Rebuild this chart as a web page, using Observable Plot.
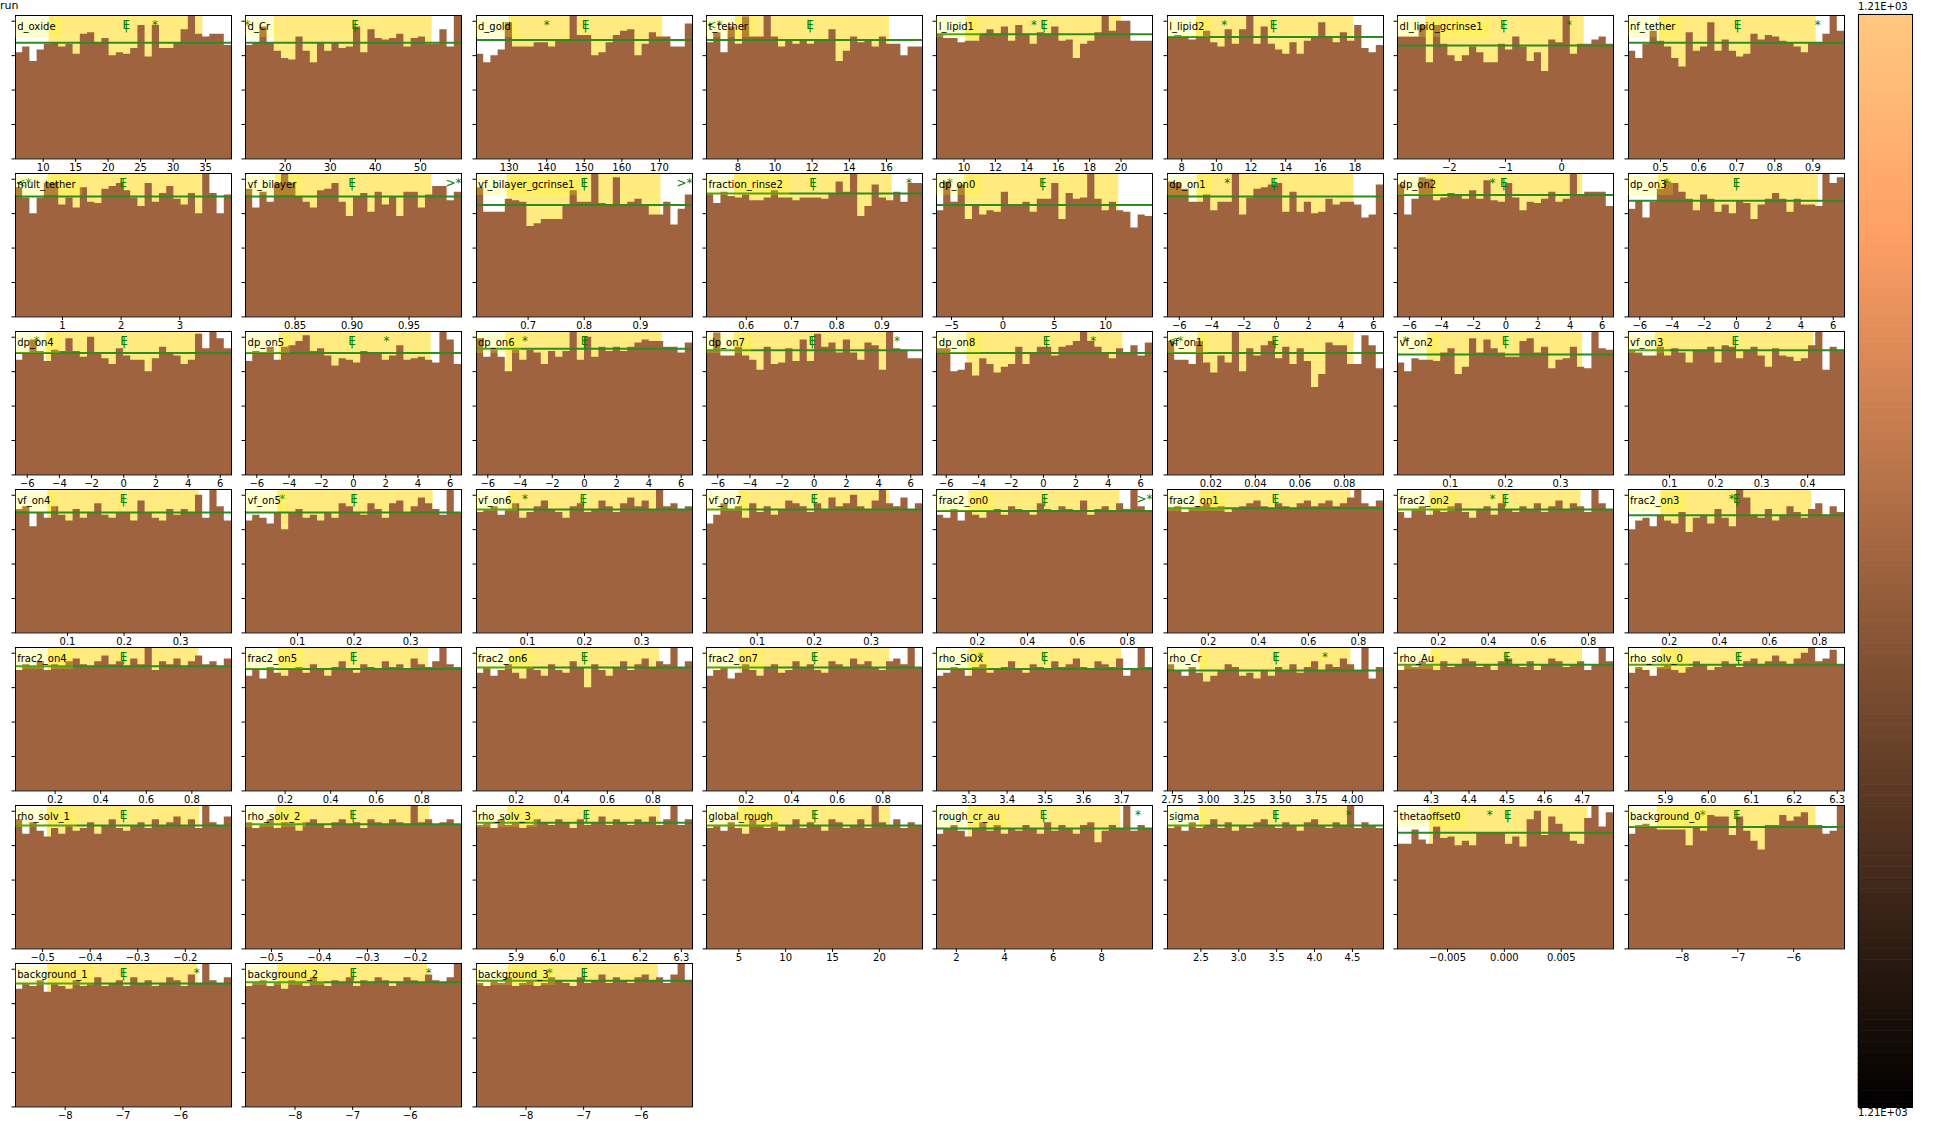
<!DOCTYPE html>
<html><head><meta charset="utf-8">
<script src="https://cdn.jsdelivr.net/npm/d3@7"></script>
<script src="https://cdn.jsdelivr.net/npm/@observablehq/plot@0.6"></script>
<style>
body{margin:0;background:#fff;font-family:"DejaVu Sans",sans-serif;}
#root{position:relative;width:1940px;height:1137px;overflow:hidden;background:#fff;}
.lbl{position:absolute;height:20px;line-height:20px;font-size:10px;background:rgba(255,255,0,0.2);padding:0 6px 0 2.5px;color:#000;white-space:nowrap;}
.txt{position:absolute;font-size:10px;color:#000;white-space:nowrap;}
.panel{position:absolute;}
</style></head><body><div id="root"></div>
<script>
const title = "run";
const names = ["d_oxide","d_Cr","d_gold","t_tether","l_lipid1","l_lipid2","dl_lipid_gcrinse1","nf_tether",
"mult_tether","vf_bilayer","vf_bilayer_gcrinse1","fraction_rinse2","dp_on0","dp_on1","dp_on2","dp_on3",
"dp_on4","dp_on5","dp_on6","dp_on7","dp_on8","vf_on1","vf_on2","vf_on3",
"vf_on4","vf_on5","vf_on6","vf_on7","frac2_on0","frac2_on1","frac2_on2","frac2_on3",
"frac2_on4","frac2_on5","frac2_on6","frac2_on7","rho_SiOx","rho_Cr","rho_Au","rho_solv_0",
"rho_solv_1","rho_solv_2","rho_solv_3","global_rough","rough_cr_au","sigma","thetaoffset0","background_0",
"background_1","background_2","background_3"];

const xDomains = [[5.73,39.0],[11.2,59.1],[121.3,178.8],[6.31,17.94],[8.25,22.0],[7.18,19.64],[-2.92,0.92],[0.416,0.983],
[0.2,3.88],[0.8066,0.996],[0.608,0.993],[0.512,0.990],[-6.46,14.55],[-6.73,6.62],[-6.74,6.70],[-6.70,6.70],
[-6.73,6.70],[-6.70,6.70],[-6.70,6.70],[-6.70,6.73],[-6.6,6.73],[0.0005,0.0976],[0.0043,0.396],[0.011,0.480],
[0.008,0.39],[0.008,0.39],[0.011,0.389],[0.011,0.39],[0.036,0.90],[0.037,0.90],[0.037,0.90],[0.037,0.90],
[0.026,0.974],[0.026,0.974],[0.026,0.974],[0.026,0.974],[3.215,3.781],[2.716,4.216],[4.211,4.782],[5.814,6.317],
[-0.557,-0.103],[-0.554,-0.104],[5.804,6.327],[1.55,24.6],[1.18,10.1],[2.06,4.91],[-0.0094,0.0096],[-8.96,-5.09],
[-8.86,-5.12],[-8.86,-5.11],[-8.86,-5.11]];

const dpT = ["−6","−4","−2","0","2","4","6"];
const xTicks = [["10","15","20","25","30","35"],["20","30","40","50"],["130","140","150","160","170"],["8","10","12","14","16"],["10","12","14","16","18","20"],["8","10","12","14","16","18"],["−2","−1","0"],["0.5","0.6","0.7","0.8","0.9"],
["1","2","3"],["0.85","0.90","0.95"],["0.7","0.8","0.9"],["0.6","0.7","0.8","0.9"],["−5","0","5","10"],dpT,dpT,dpT,
dpT,dpT,dpT,dpT,dpT,["0.02","0.04","0.06","0.08"],["0.1","0.2","0.3"],["0.1","0.2","0.3","0.4"],
["0.1","0.2","0.3"],["0.1","0.2","0.3"],["0.1","0.2","0.3"],["0.1","0.2","0.3"],["0.2","0.4","0.6","0.8"],["0.2","0.4","0.6","0.8"],["0.2","0.4","0.6","0.8"],["0.2","0.4","0.6","0.8"],
["0.2","0.4","0.6","0.8"],["0.2","0.4","0.6","0.8"],["0.2","0.4","0.6","0.8"],["0.2","0.4","0.6","0.8"],["3.3","3.4","3.5","3.6","3.7"],["2.75","3.00","3.25","3.50","3.75","4.00"],["4.3","4.4","4.5","4.6","4.7"],["5.9","6.0","6.1","6.2","6.3"],
["−0.5","−0.4","−0.3","−0.2"],["−0.5","−0.4","−0.3","−0.2"],["5.9","6.0","6.1","6.2","6.3"],["5","10","15","20"],["2","4","6","8"],["2.5","3.0","3.5","4.0","4.5"],["−0.005","0.000","0.005"],["−8","−7","−6"],
["−8","−7","−6"],["−8","−7","−6"],["−8","−7","−6"]];

// histogram bar heights, percent of the tallest bin (30 bins per parameter)
const heights = [
[74,78,68,76,80,81,78,80,73,87,88,81,84,72,74,73,77,93,71,93,77,77,81,90,100,87,85,87,87,79],
[79,81,92,81,75,70,69,85,75,67,81,75,81,77,78,92,74,90,84,83,84,87,78,84,85,80,80,90,78,100],
[73,67,72,76,95,78,78,78,81,81,78,83,83,100,86,86,72,74,81,86,89,90,72,80,88,85,85,78,78,94],
[81,88,74,92,80,99,85,85,100,85,78,82,80,83,80,83,83,90,68,75,85,81,83,78,85,80,80,72,78,78],
[86,84,84,81,82,82,87,90,87,92,82,93,87,80,88,87,92,82,83,70,80,82,88,100,89,96,96,82,82,82],
[85,86,85,83,85,89,81,78,90,80,90,100,80,92,80,76,73,81,73,82,85,95,85,81,88,82,93,77,74,79],
[85,85,85,93,67,93,80,72,68,72,78,74,67,67,80,76,85,78,68,74,61,83,81,100,73,80,80,83,85,80],
[75,70,80,89,82,78,70,64,88,75,78,95,75,83,75,71,73,87,83,86,85,82,81,78,74,81,81,87,100,89],
[90,83,72,83,93,93,78,83,76,90,80,79,89,91,93,88,83,77,93,80,86,91,82,78,86,72,100,86,72,85],
[89,76,87,80,93,100,93,84,80,76,88,89,93,80,70,84,86,73,87,78,84,70,87,87,76,85,91,91,81,87],
[90,73,73,73,82,81,80,63,65,68,68,68,77,88,80,80,100,79,77,97,78,80,82,77,71,71,80,64,75,85],
[86,79,87,84,83,85,81,81,83,88,83,83,81,83,83,83,82,86,94,87,100,70,77,92,83,81,87,80,93,93],
[74,94,80,92,68,77,71,74,73,87,77,77,80,73,82,82,93,68,86,82,83,100,82,74,80,74,73,62,71,70],
[94,93,89,80,80,85,74,80,80,100,71,83,89,90,92,93,73,87,73,80,72,73,82,78,80,80,78,69,71,92],
[92,71,82,97,96,81,83,86,85,82,88,82,95,81,80,93,83,74,80,79,82,87,80,82,100,85,87,87,87,77],
[75,81,69,80,89,94,93,87,82,74,85,82,73,78,72,81,79,68,78,82,86,82,73,82,78,78,77,100,93,97],
[80,85,94,86,79,87,86,95,86,82,96,85,81,77,88,83,80,80,72,81,89,85,83,77,80,98,88,100,95,88],
[79,86,85,89,80,89,90,93,97,86,88,83,76,81,80,78,86,85,85,80,83,90,80,81,82,80,78,100,94,77],
[95,82,87,82,72,87,80,87,85,77,86,82,86,100,80,96,82,89,86,89,86,89,92,94,93,93,89,89,85,92],
[87,99,83,83,89,83,80,73,89,77,78,88,79,94,79,98,89,92,85,94,85,80,92,90,73,100,88,87,81,81],
[88,88,72,73,78,69,81,77,71,75,77,89,77,85,89,89,83,89,90,93,100,93,89,85,81,88,84,90,83,92],
[93,80,80,77,93,78,71,83,78,100,72,88,83,90,93,81,89,77,88,79,61,70,92,90,90,77,77,97,90,74],
[78,72,81,80,80,79,85,88,70,75,95,85,94,88,85,82,82,93,95,85,89,74,80,81,89,75,74,100,88,87],
[87,85,83,83,89,83,88,85,78,86,86,89,78,90,89,81,86,89,83,75,88,83,82,79,81,90,100,73,89,87],
[86,88,74,84,80,88,82,78,86,80,84,90,82,80,84,84,78,92,84,80,78,86,82,86,84,96,80,100,88,78],
[78,82,80,76,84,72,84,86,80,82,78,84,80,90,88,84,82,90,86,80,90,92,84,88,94,90,86,82,100,84],
[84,86,88,82,86,90,80,84,88,92,86,84,80,88,90,84,86,92,88,84,90,94,88,92,86,100,88,90,86,88],
[76,82,90,86,88,80,90,84,88,82,86,92,90,88,84,90,86,94,88,90,96,88,86,92,100,90,88,94,86,90],
[82,80,86,78,84,82,80,84,86,82,88,86,84,82,90,86,84,88,86,84,92,82,86,88,84,90,86,100,88,84],
[86,88,84,86,88,90,86,88,84,86,88,90,92,88,86,90,88,86,90,92,88,90,92,88,90,94,100,90,88,92],
[84,80,86,88,82,86,84,88,90,84,80,86,88,82,90,86,84,88,86,90,84,88,92,86,90,88,84,100,90,86],
[72,78,80,74,82,78,76,84,70,80,82,76,86,80,74,100,94,82,80,86,78,82,88,84,80,86,90,82,88,84],
[84,88,86,90,84,88,86,90,92,88,86,90,94,88,90,86,92,88,100,84,90,88,92,86,90,94,88,90,86,92],
[80,84,78,86,82,80,84,86,82,88,84,80,86,90,84,82,88,86,84,90,86,88,84,92,88,86,90,100,88,86],
[82,86,80,84,88,82,78,86,84,80,88,84,82,90,86,72,88,84,80,86,90,84,88,92,86,90,88,100,86,90],
[80,84,86,78,82,88,84,80,86,88,82,84,90,86,88,84,82,90,88,86,92,88,90,86,84,90,92,88,100,86],
[80,82,86,84,80,86,88,82,84,86,90,84,82,88,86,84,90,86,88,92,86,84,90,88,86,92,80,84,100,86],
[88,84,80,86,82,76,80,84,88,86,80,82,78,84,80,86,84,88,82,86,90,84,88,86,92,88,84,100,78,86],
[84,88,86,90,88,84,90,86,88,92,90,86,88,84,90,92,88,86,90,84,88,92,90,86,88,90,84,88,100,90],
[82,86,84,80,86,88,84,82,86,90,88,84,86,90,88,86,90,92,88,90,94,90,88,92,96,100,90,92,98,88],
[90,80,88,82,78,84,80,86,82,84,88,80,86,90,84,82,86,88,84,90,86,88,92,86,90,84,100,88,86,92],
[88,84,86,90,84,88,86,82,88,90,86,84,88,90,86,88,84,90,88,86,90,88,86,100,88,90,86,88,90,86],
[86,88,84,90,86,88,84,86,90,88,86,90,88,84,90,86,88,92,86,90,88,86,90,88,92,86,90,100,86,90],
[84,86,82,88,84,80,90,86,84,88,82,86,90,84,88,86,82,90,88,84,86,90,84,100,88,86,90,84,88,86],
[80,84,86,82,78,84,88,82,86,80,84,82,86,84,80,88,82,86,84,80,86,88,74,82,86,84,100,82,86,84],
[84,86,82,88,84,86,90,84,88,82,86,84,88,90,86,84,88,86,82,88,90,86,84,88,86,100,84,88,86,84],
[73,73,83,76,73,85,77,78,72,75,72,81,81,81,81,73,78,71,90,96,79,92,87,81,75,73,91,100,85,95],
[80,86,87,85,83,83,83,83,72,84,82,93,92,92,79,92,82,75,69,86,86,93,89,92,95,86,86,80,82,100],
[82,86,84,88,80,86,84,82,88,84,86,90,84,86,88,84,90,86,88,84,86,90,88,84,92,86,100,88,86,90],
[84,86,88,84,86,82,88,86,84,90,86,84,88,86,90,84,88,86,90,88,84,86,90,88,86,92,88,86,90,100],
[86,84,88,86,90,84,86,88,84,86,90,88,86,84,90,86,88,92,86,90,88,86,90,92,88,90,86,92,100,88]];

// 68% interval (shaded), mean (E, |), best (*), and the level of the green line (percent)
const bands = [[10.9,34.6],[17.6,52.6],[130.0,170.9],[7.87,16.16],[10.12,20.03],[8.85,17.92],[-2.42,0.40],[0.497,0.909],
[0.756,3.39],[0.833,0.970],[0.663,0.937],[0.574,0.923],[-3.73,11.27],[-4.9,4.8],[-4.9,4.78],[-4.86,5.1],
[-4.82,4.86],[-4.61,4.82],[-4.86,4.82],[-4.97,4.85],[-4.72,4.9],[0.0141,0.0844],[0.058,0.34],[0.070,0.413],
[0.065,0.333],[0.065,0.340],[0.068,0.332],[0.068,0.333],[0.166,0.77],[0.166,0.77],[0.166,0.77],[0.166,0.77],
[0.17,0.83],[0.17,0.83],[0.17,0.83],[0.17,0.83],[3.30,3.70],[2.94,3.99],[4.30,4.70],[5.89,6.24],
[-0.49,-0.17],[-0.49,-0.17],[5.88,6.25],[5.0,21.2],[2.5,8.8],[2.49,4.48],[-0.00657,0.00736],[-8.44,-5.6],
[-8.3,-5.7],[-8.3,-5.7],[-8.3,-5.7]];
const means = [22.8,35.5,150.3,11.88,15.1,13.3,-1.03,0.702,
2.03,0.900,0.80,0.748,3.88,-0.14,-0.13,0.0,
0.02,-0.09,0.0,-0.12,0.19,0.0488,0.20,0.243,
0.199,0.2,0.198,0.2,0.468,0.468,0.468,0.47,
0.5,0.5,0.5,0.5,3.498,3.47,4.50,6.07,
-0.33,-0.33,6.07,13.1,5.6,3.49,0.00029,-7.02,
-6.99,-6.99,-6.99];
const bests = [27.2,11.6,140.0,6.0,14.45,10.46,0.13,0.913,
0.1,1.0,1.0,0.96,-5.17,-3.03,-0.83,-4.34,
-5.41,2.04,-3.69,5.14,3.07,-0.01,0.019,null,
null,0.073,0.096,null,0.95,null,0.417,0.45,
null,null,null,null,3.33,3.81,null,null,
null,null,null,null,9.5,4.45,-0.00129,-7.63,
-5.72,-5.68,-7.59];
const lines = [81,81,83,83,87,85,79,81,
84,84,78,86,78,84,85,81,
85,85,88,87,85,85,84,87,
84,84,86,86,85,87,86,82,
87,85,86,86,85,84,88,88,
86,87,88,86,84,86,81,85,
86,87,88];

const cbLabelTop = "1.21E+03", cbLabelBottom = "1.21E+03";

// ---- layout / style ----
const BROWN = "#9f643f", GOLD = "#ffd700", GREEN = "#008000", LINEG = "#2f8a22";
const COLS = 8, PW = 216, PH = 143.4, X0 = 14.7, Y0 = 14.7, DX = 230.4, DY = 158;
const ML = 6, MR = 6, MT = 1, MB = 17;
const root = document.getElementById("root");
const num = s => +s.replace("−", "-");

const t = document.createElement("div");
t.className = "txt"; t.style.left = "0px"; t.style.top = "-1px"; t.style.fontSize = "11px"; t.textContent = title;
root.appendChild(t);

names.forEach((name, k) => {
  const c = k % COLS, r = Math.floor(k / COLS);
  const L = X0 + DX * c, T = Y0 + DY * r;
  const [x0, x1] = xDomains[k];
  const h = heights[k], n = h.length, w = (x1 - x0) / n;
  const steps = h.map((v, i) => ({x: x0 + i * w, y: v / 100}));
  steps.push({x: x1, y: h[n - 1] / 100});
  const tv = xTicks[k].map(num);
  const fmt = new Map(tv.map((v, i) => [v, xTicks[k][i]]));
  const textOpts = {frameAnchor: "top", lineAnchor: "top", dy: 5, fill: GREEN, fontSize: 12};
  const marks = [
    Plot.rect([bands[k]], {x1: d => d[0], x2: d => d[1], fill: GOLD, fillOpacity: 0.5}),
    Plot.areaY(steps, {x: "x", y: "y", curve: "step-after", fill: BROWN}),
    Plot.ruleY([lines[k] / 100], {stroke: LINEG, strokeWidth: 2}),
    Plot.text([means[k]], {x: d => d, text: () => "E", ...textOpts}),
    Plot.text([means[k]], {x: d => d, text: () => "|", ...textOpts})
  ];
  const b = bests[k];
  if (b != null) {
    if (b < x0) marks.push(Plot.text([x0], {x: d => d, text: () => "<*", textAnchor: "start", ...textOpts}));
    else if (b > x1) marks.push(Plot.text([x1], {x: d => d, text: () => ">*", textAnchor: "end", ...textOpts}));
    else marks.push(Plot.text([b], {x: d => d, text: () => "*", ...textOpts}));
  }
  marks.push(Plot.frame({stroke: "#000", strokeWidth: 1}));
  const p = Plot.plot({
    width: PW + ML + MR, height: PH + MT + MB,
    marginLeft: ML, marginRight: MR, marginTop: MT, marginBottom: MB,
    x: {domain: [x0, x1], ticks: tv, tickFormat: d => fmt.get(d) ?? "", tickSize: 3.5, tickPadding: 1.2, label: null},
    y: {domain: [0, 1], ticks: [0, 0.24, 0.48, 0.72, 0.96], tickFormat: () => "", tickSize: 3.5, label: null},
    style: {fontFamily: "DejaVu Sans", fontSize: "10px", background: "transparent", color: "#000", overflow: "visible"},
    marks
  });
  p.classList.add("panel");
  p.style.left = (L - ML) + "px";
  p.style.top = (T - MT) + "px";
  root.appendChild(p);
  const lb = document.createElement("div");
  lb.className = "lbl"; lb.textContent = name;
  lb.style.left = L + "px"; lb.style.top = (T + 2.5) + "px";
  root.appendChild(lb);
});

// ---- colorbar (copper colormap) ----
const copper = d3.scaleLinear().domain([0, 0.8, 1]).range(["#000000", "#ff9f65", "#ffc77f"]);
const cells = d3.range(200).map(i => ({a: i / 200, b: (i + 1) / 200}));
const cb = Plot.plot({
  width: 54, height: 1093, margin: 0,
  x: {axis: null, domain: [0, 1]}, y: {axis: null, domain: [0, 1]},
  style: {background: "transparent", overflow: "visible"},
  marks: [
    Plot.rect(cells, {x1: () => 0, x2: () => 1, y1: "a", y2: "b", fill: d => copper((d.a + d.b) / 2), inset: -0.3}),
    Plot.frame({stroke: "#000"})
  ]
});
cb.classList.add("panel"); cb.style.left = "1858px"; cb.style.top = "14px";
root.appendChild(cb);
const l1 = document.createElement("div"); l1.className = "txt"; l1.textContent = cbLabelTop;
l1.style.left = "1858px"; l1.style.top = "1px"; root.appendChild(l1);
const l2 = document.createElement("div"); l2.className = "txt"; l2.textContent = cbLabelBottom;
l2.style.left = "1858px"; l2.style.top = "1107px"; root.appendChild(l2);
</script></body></html>
